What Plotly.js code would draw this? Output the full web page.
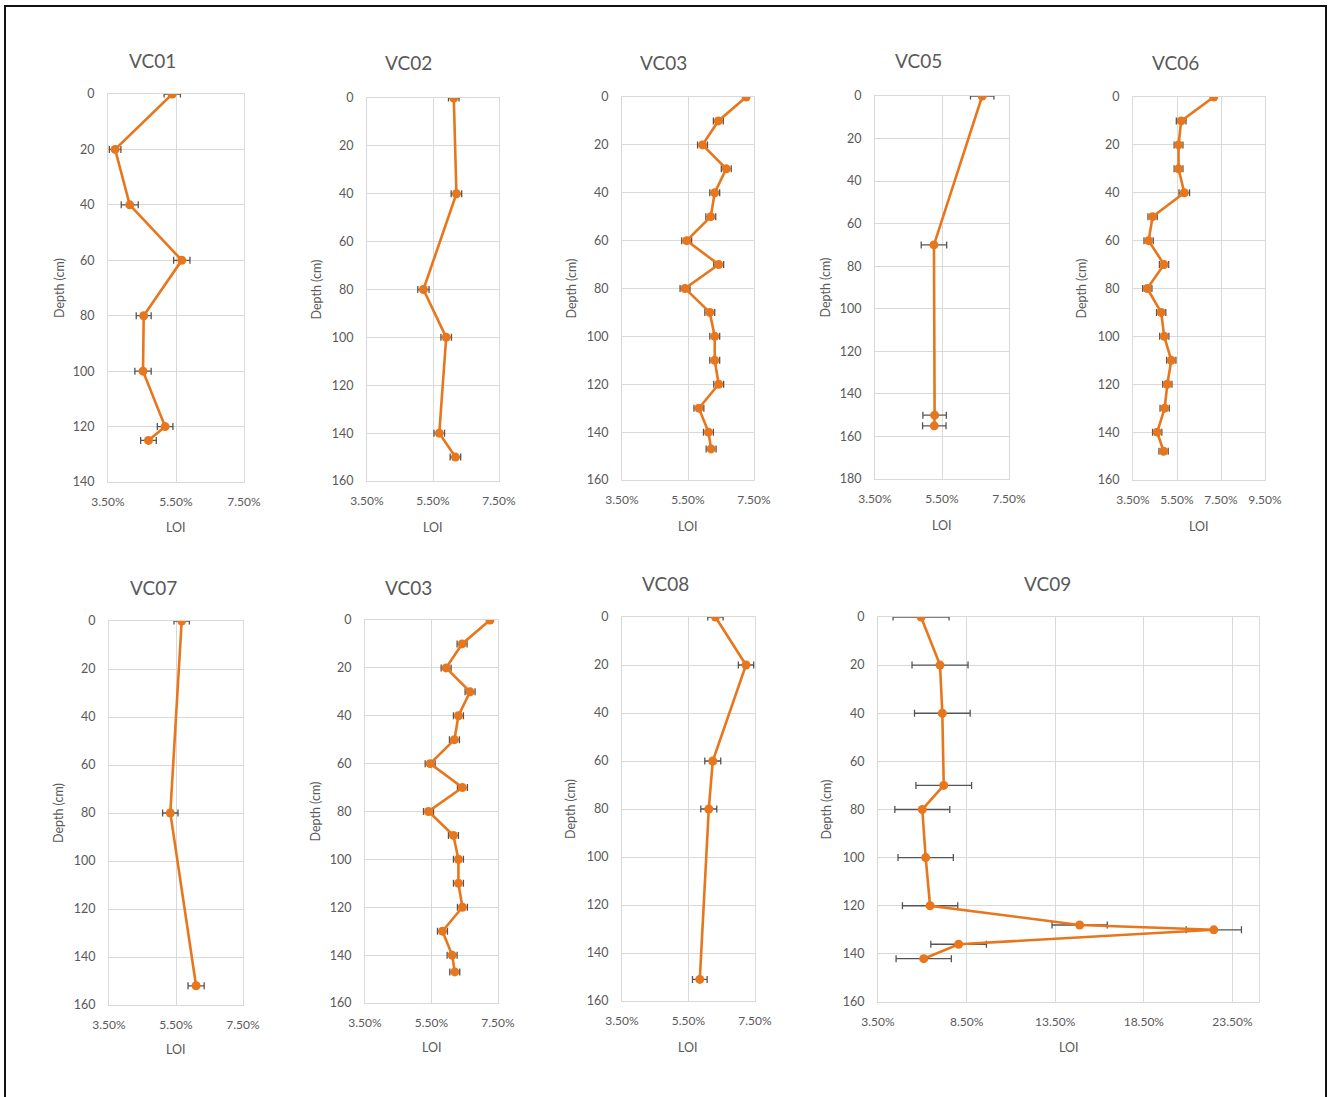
<!DOCTYPE html>
<html>
<head>
<meta charset="utf-8">
<script src="https://cdn.plot.ly/plotly-3.0.1.min.js"></script>
<style>
  html, body { margin: 0; padding: 0; background: #ffffff; }
  #chart { width: 1328px; height: 1097px; }
</style>
</head>
<body>
<div id="chart"></div>
<script>
// ---------------- DATA (LOI in %, depth in cm) ----------------
const panelNames = ['VC01', 'VC02', 'VC03', 'VC05', 'VC06', 'VC07', 'VC03', 'VC08', 'VC09'];

const vc01Depth = [0, 20, 40, 60, 80, 100, 120, 125];
const vc01Loi   = [5.39, 3.71, 4.14, 5.67, 4.55, 4.53, 5.18, 4.69];
const vc01Err   = [0.24, 0.17, 0.25, 0.24, 0.22, 0.24, 0.23, 0.23];

const vc02Depth = [0, 40, 80, 100, 140, 150];
const vc02Loi   = [6.13, 6.21, 5.21, 5.90, 5.69, 6.18];
const vc02Err   = [0.16, 0.16, 0.17, 0.16, 0.16, 0.16];

const vc03Depth = [0, 10, 20, 30, 40, 50, 60, 70, 80, 90, 100, 110, 120, 130, 140, 147];
const vc03Loi   = [7.26, 6.42, 5.94, 6.66, 6.31, 6.19, 5.46, 6.43, 5.41, 6.16, 6.31, 6.31, 6.43, 5.83, 6.12, 6.20];
const vc03Err   = [0.06, 0.15, 0.15, 0.15, 0.15, 0.15, 0.15, 0.15, 0.15, 0.15, 0.15, 0.15, 0.15, 0.15, 0.15, 0.15];

const vc05Depth = [0, 70, 150, 155];
const vc05Loi   = [6.70, 5.26, 5.28, 5.27];
const vc05Err   = [0.35, 0.38, 0.35, 0.35];

const vc06Depth = [0, 10, 20, 30, 40, 50, 60, 70, 80, 90, 100, 110, 120, 130, 140, 148];
const vc06Loi   = [7.17, 5.69, 5.57, 5.57, 5.83, 4.39, 4.21, 4.91, 4.15, 4.78, 4.92, 5.24, 5.06, 4.94, 4.60, 4.89];
const vc06Err   = [0.08, 0.22, 0.20, 0.20, 0.24, 0.21, 0.21, 0.21, 0.21, 0.21, 0.21, 0.21, 0.21, 0.21, 0.21, 0.21];

const vc07Depth = [0, 80, 152];
const vc07Loi   = [5.67, 5.33, 6.10];
const vc07Err   = [0.23, 0.23, 0.24];

const vc08Depth = [0, 20, 60, 80, 151];
const vc08Loi   = [6.31, 7.23, 6.23, 6.11, 5.84];
const vc08Err   = [0.23, 0.23, 0.24, 0.24, 0.22];

const vc09Depth = [0, 20, 40, 70, 80, 100, 120, 128, 130, 136, 142];
const vc09Loi   = [5.93, 7.00, 7.13, 7.21, 6.00, 6.19, 6.44, 14.88, 22.45, 8.05, 6.08];
const vc09Err   = [1.58, 1.58, 1.57, 1.57, 1.55, 1.56, 1.56, 1.56, 1.56, 1.57, 1.56];

// axis scales per panel
const xRanges  = [[3.5, 7.5], [3.5, 7.5], [3.5, 7.5], [3.5, 7.5], [3.5, 9.5], [3.5, 7.5], [3.5, 7.5], [3.5, 7.5], [3.5, 25]];
const xSteps   = [2, 2, 2, 2, 2, 2, 2, 2, 5];
const yMax     = [140, 160, 160, 180, 160, 160, 160, 160, 160];

const series = [
  [vc01Depth, vc01Loi, vc01Err],
  [vc02Depth, vc02Loi, vc02Err],
  [vc03Depth, vc03Loi, vc03Err],
  [vc05Depth, vc05Loi, vc05Err],
  [vc06Depth, vc06Loi, vc06Err],
  [vc07Depth, vc07Loi, vc07Err],
  [vc03Depth, vc03Loi, vc03Err],
  [vc08Depth, vc08Loi, vc08Err],
  [vc09Depth, vc09Loi, vc09Err]
];

// ---------------- LAYOUT (pixel boxes) ----------------
const W = 1328, H = 1097;
// plot areas: [left, right, top, bottom]
const boxes = [
  [108, 244, 94, 482],
  [367, 499, 98, 481],
  [622, 754, 97, 480],
  [875, 1009, 96, 479],
  [1133, 1265, 97, 480],
  [109, 243, 621, 1005],
  [365, 498, 620, 1003],
  [622, 755, 617, 1001],
  [878, 1259, 617, 1002]
];
const titlePos = [[152, 60], [408, 63], [663, 63], [918, 61], [1175, 62], [153, 587], [408, 587], [665, 583], [1047, 583]];
const depthX   = [59, 316, 571, 825, 1081, 59, 315, 570, 826];
const loiY     = [527, 527, 526, 525, 526, 1049, 1047, 1047, 1047];

const FONT = 'Lato, "Open Sans", "Liberation Sans", sans-serif';
const GREY = '#595959';
const GRID = '#d9d9d9';
const ORANGE = '#E8761C';

const px = v => v / W;
const py = v => 1 - v / H;

const traces = [];
const layout = {
  width: W, height: H,
  margin: {l: 0, r: 0, t: 0, b: 0, pad: 0},
  paper_bgcolor: '#ffffff',
  plot_bgcolor: '#ffffff',
  showlegend: false,
  font: {family: FONT, color: GREY, size: 12},
  annotations: [],
  shapes: [{
    type: 'rect', xref: 'paper', yref: 'paper',
    x0: px(5), x1: px(1326), y0: py(1102), y1: py(6),
    line: {color: '#111111', width: 2}
  }]
};

series.forEach((s, i) => {
  const n = i === 0 ? '' : String(i + 1);
  const b = boxes[i];
  traces.push({
    type: 'scatter', mode: 'lines+markers',
    x: s[1], y: s[0],
    xaxis: 'x' + n, yaxis: 'y' + n,
    line: {color: ORANGE, width: 2.6},
    marker: {color: ORANGE, size: 9, symbol: 'circle'},
    error_x: {type: 'data', array: s[2], visible: true, color: '#555555', thickness: 1.3, width: 3.5},
    hoverinfo: 'x+y'
  });
  layout['xaxis' + n] = {
    domain: [px(b[0]), px(b[1])],
    anchor: 'y' + n,
    range: xRanges[i],
    tick0: 3.5, dtick: xSteps[i],
    tickformat: '.2f', ticksuffix: '%',
    showgrid: true, gridcolor: GRID, gridwidth: 1,
    zeroline: false,
    showline: true, linecolor: GRID, linewidth: 1, mirror: true,
    ticks: '', ticklabelstandoff: 9,
    tickfont: {family: FONT, size: 12, color: GREY},
    automargin: false, fixedrange: true
  };
  layout['yaxis' + n] = {
    domain: [py(b[3]), py(b[2])],
    anchor: 'x' + n,
    range: [yMax[i], 0],
    tick0: 0, dtick: 20,
    showgrid: true, gridcolor: GRID, gridwidth: 1,
    zeroline: false,
    showline: true, linecolor: GRID, linewidth: 1, mirror: true,
    ticks: '', ticklabelstandoff: 10,
    tickfont: {family: FONT, size: 12.5, color: GREY},
    automargin: false, fixedrange: true
  };
  layout.annotations.push({
    text: panelNames[i], xref: 'paper', yref: 'paper',
    x: px(titlePos[i][0]), y: py(titlePos[i][1]),
    xanchor: 'center', yanchor: 'middle', showarrow: false,
    font: {family: FONT, size: 19, color: GREY}
  });
  layout.annotations.push({
    text: 'Depth (cm)', xref: 'paper', yref: 'paper',
    x: px(depthX[i]), y: py((b[2] + b[3]) / 2),
    xanchor: 'center', yanchor: 'middle', showarrow: false, textangle: -90,
    font: {family: FONT, size: 12.5, color: GREY}
  });
  layout.annotations.push({
    text: 'LOI', xref: 'paper', yref: 'paper',
    x: px((b[0] + b[1]) / 2), y: py(loiY[i]),
    xanchor: 'center', yanchor: 'middle', showarrow: false,
    font: {family: FONT, size: 12.5, color: GREY}
  });
});

Plotly.newPlot('chart', traces, layout, {displayModeBar: false, staticPlot: true});
</script>
</body>
</html>
